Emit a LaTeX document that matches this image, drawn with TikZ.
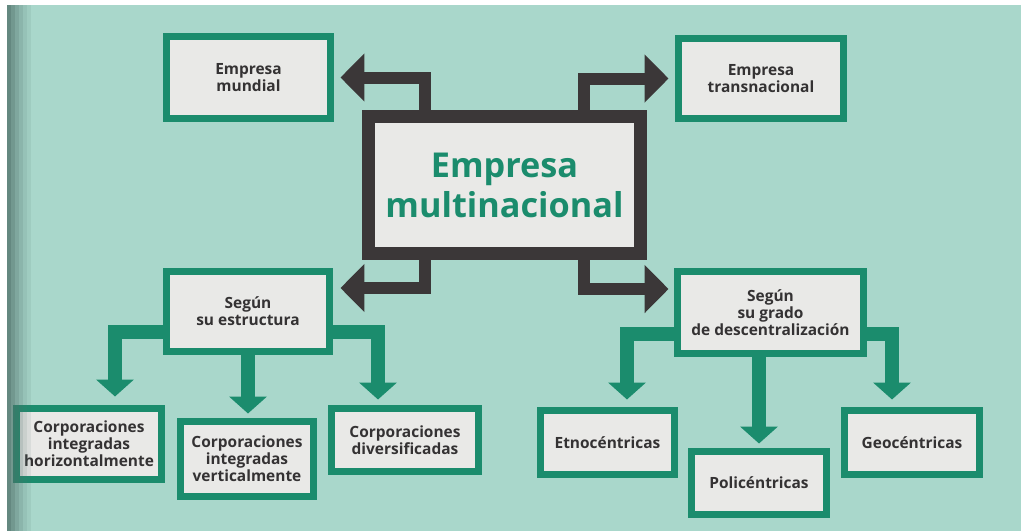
\documentclass[tikz,border=0pt]{standalone}
\usepackage{fontspec}
\setmainfont{Open Sans}
\usetikzlibrary{arrows.meta}
\definecolor{bgteal}{HTML}{A9D7CB}
\definecolor{boxgreen}{HTML}{1B8C6D}
\definecolor{darkgray}{HTML}{3B3738}
\definecolor{boxfill}{HTML}{E9E9E7}
\definecolor{txt}{HTML}{343233}
\definecolor{edge}{HTML}{4E6E68}
\tikzset{
  gbox/.style={draw=boxgreen, line width=0.14cm, fill=boxfill, inner sep=0pt,
    align=center, text=txt, font=\bfseries\fontsize{8.8}{9.7}\selectfont},
  mainbox/.style={draw=darkgray, line width=0.26cm, fill=boxfill, inner sep=0pt,
    align=center, text=boxgreen, font=\bfseries\fontsize{19.5}{22.7}\selectfont},
  darr/.style={draw=darkgray, line width=0.24cm,
    -{Triangle[width=0.94cm,length=0.48cm]}},
  garr/.style={draw=boxgreen, line width=0.28cm,
    -{Triangle[width=0.74cm,length=0.34cm]}}
}
\begin{document}
\begin{tikzpicture}[x=0.02cm,y=-0.02cm]
\useasboundingbox (0,0) rectangle (1021,531);
\fill[white] (0,0) rectangle (1021,531);
\fill[bgteal] (7,5) rectangle (1021,531);

% boxes
\node[gbox, minimum width=3.28cm, minimum height=1.64cm] (mundial) at (248.5,77.5) {Empresa\\mundial};
\node[gbox, minimum width=3.30cm, minimum height=1.60cm] (trans) at (761,78.5) {Empresa\\transnacional};
\node[mainbox, minimum width=5.44cm, minimum height=2.74cm] (main) at (504.5,185) {Empresa\\multinacional};
\node[gbox, minimum width=3.26cm, minimum height=1.60cm] (estr) at (248,311.5) {Según\\su estructura};
\node[gbox, minimum width=3.72cm, minimum height=1.64cm] (desc) at (770.5,312.5) {Según\\su grado\\de descentralización};
\node[gbox, minimum width=2.90cm, minimum height=1.42cm] (c1) at (89,444) {Corporaciones\\integradas\\horizontalmente};
\node[gbox, minimum width=2.66cm, minimum height=1.50cm] (c2) at (247,459) {Corporaciones\\integradas\\verticalmente};
\node[gbox, minimum width=2.94cm, minimum height=1.26cm] (c3) at (405,440) {Corporaciones\\diversificadas};
\node[gbox, minimum width=2.68cm, minimum height=1.28cm] (e1) at (607.5,442.5) {Etnocéntricas};
\node[gbox, minimum width=2.70cm, minimum height=1.26cm] (e2) at (759,483) {Policéntricas};
\node[gbox, minimum width=2.70cm, minimum height=1.28cm] (e3) at (912,442.5) {Geocéntricas};

% dark connectors
\draw[darr, shorten >=0.13cm] ([xshift=1.25cm]main.north west) |- (mundial.east);
\draw[darr, shorten >=0.13cm] ([xshift=-1.25cm]main.north east) |- (trans.west);
\draw[darr, shorten >=0.15cm] ([xshift=1.25cm]main.south west) |- ([yshift=0.47cm]estr.east);
\draw[darr, shorten >=0.11cm] ([xshift=-1.25cm]main.south east) |- ([yshift=0.47cm]desc.west);

% green connectors
\draw[garr, shorten >=0.17cm] ([yshift=-0.41cm]estr.west) -| ([xshift=0.52cm]c1.north);
\draw[garr, shorten >=0.09cm] (estr.south) -- (estr.south |- c2.north);
\draw[garr, shorten >=0.11cm] ([yshift=-0.41cm]estr.east) -| ([xshift=-0.54cm]c3.north);
\draw[garr, shorten >=0.15cm] ([yshift=-0.43cm]desc.west) -| ([xshift=0.39cm]e1.north);
\draw[garr, shorten >=0.09cm] (e2.north |- desc.south) -- (e2.north);
\draw[garr, shorten >=0.15cm] ([yshift=-0.43cm]desc.east) -| ([xshift=-0.40cm]e3.north);

% scanned page edge shadow
\foreach \i/\o in {0/0.75,4/0.6,8/0.45,12/0.32,16/0.2,20/0.1}{
  \fill[edge, opacity=\o] (7+\i,5) rectangle (11+\i,531);
}
\end{tikzpicture}
\end{document}
